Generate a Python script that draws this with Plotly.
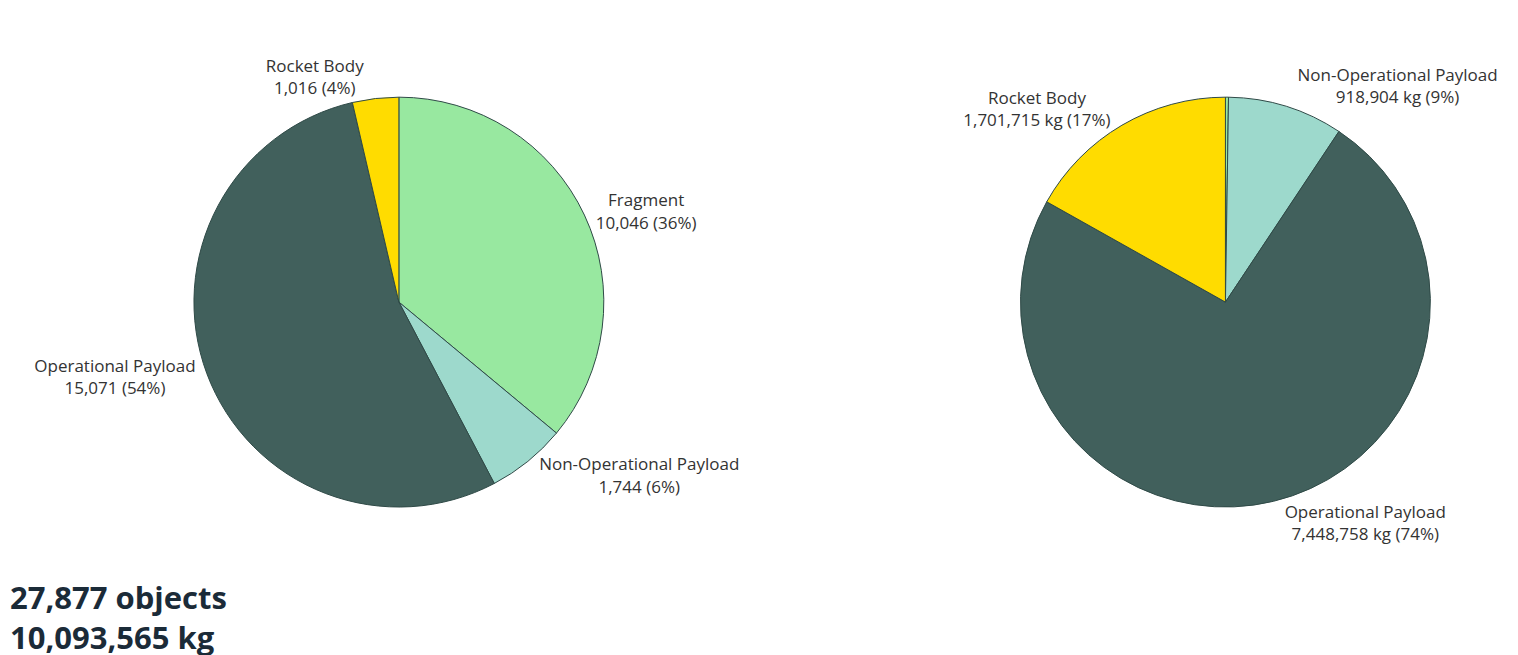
import plotly.graph_objects as go

# object counts
count_labels = ["Fragment", "Non-Operational Payload", "Operational Payload", "Rocket Body"]
count_values = [10046, 1744, 15071, 1016]

# mass in kg
mass_labels = ["Fragment", "Non-Operational Payload", "Operational Payload", "Rocket Body"]
mass_values = [24188, 918904, 7448758, 1701715]

colors = ["#98E8A0", "#9DD9CC", "#41605C", "#FFDC00"]
line = dict(color="#2F4A47", width=1)
font = dict(family="Open Sans", size=17, color="#333333")

fig = go.Figure()
fig.add_trace(go.Pie(
    labels=count_labels, values=count_values, sort=False, direction="clockwise",
    rotation=0, marker=dict(colors=colors, line=line),
    textposition="outside", textinfo="text",
    texttemplate="%{label}<br>%{value:,} (%{percent:.0%})",
    textfont=font, showlegend=False,
    domain=dict(x=[0.1225, 0.3925], y=[0.238, 0.864]),
))
fig.add_trace(go.Pie(
    labels=mass_labels, values=mass_values, sort=False, direction="clockwise",
    rotation=0, marker=dict(colors=colors, line=line),
    textposition="outside",
    texttemplate=[""] + ["%{label}<br>%{value:,} kg (%{percent:.0%})"] * 3,
    textfont=font, showlegend=False,
    domain=dict(x=[0.667, 0.937], y=[0.238, 0.864]),
))
fig.add_annotation(
    text="<b>27,877 objects<br>10,093,565 kg</b>", xref="paper", yref="paper",
    x=0.0, y=0.005, xanchor="left", yanchor="bottom", showarrow=False, align="left",
    font=dict(family="Open Sans", size=31, color="#1B2B38"),
)
fig.update_layout(
    width=1518, height=655, margin=dict(l=0, r=0, t=0, b=0),
    paper_bgcolor="white", plot_bgcolor="white",
)
fig.write_html("out.html")
